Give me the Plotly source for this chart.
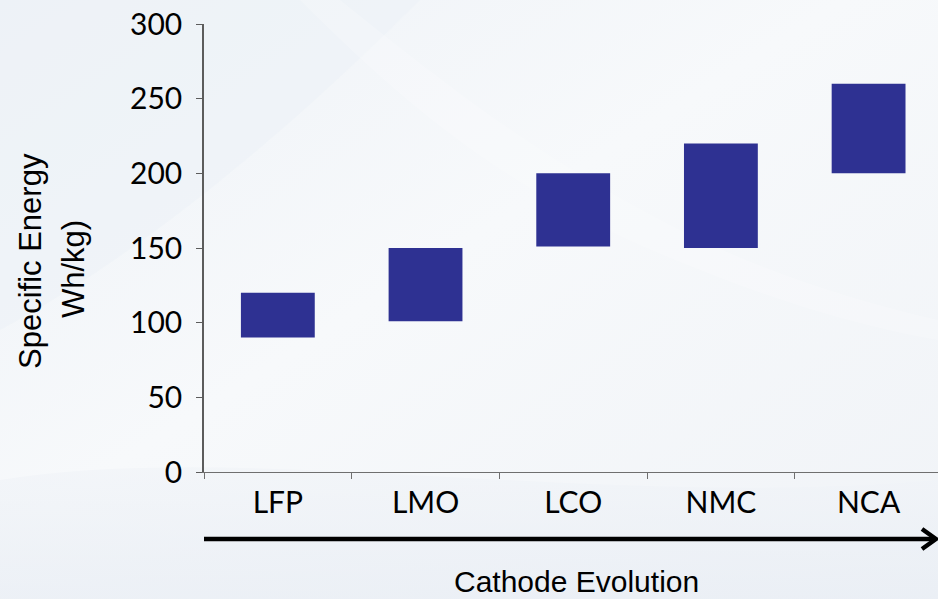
import plotly.graph_objects as go
import base64

categories = ["LFP", "LMO", "LCO", "NMC", "NCA"]
energy_low = [90, 101, 151, 150, 200]
energy_high = [120, 150, 200, 220, 260]
y_ticks = [0, 50, 100, 150, 200, 250, 300]

heights = [h - l for h, l in zip(energy_high, energy_low)]

W, H = 938, 599
L, R, T, B = 204, 0, 24, 127

svg = f'''<svg xmlns="http://www.w3.org/2000/svg" width="{W}" height="{H}" viewBox="0 0 {W} {H}">
<defs>
<linearGradient id="g" x1="0" y1="0" x2="1" y2="1">
<stop offset="0" stop-color="#eef2f7"/>
<stop offset="0.45" stop-color="#f7f9fb"/>
<stop offset="1" stop-color="#f0f3f7"/>
</linearGradient>
<linearGradient id="b" x1="0" y1="0" x2="0" y2="1">
<stop offset="0" stop-color="#f1f4f8"/>
<stop offset="1" stop-color="#e8edf4"/>
</linearGradient>
</defs>
<rect width="{W}" height="{H}" fill="url(#g)"/>
<path d="M0,0 L420,0 C300,120 150,250 0,330 Z" fill="#edf1f7" opacity="0.6"/>
<path d="M0,480 C250,440 600,510 938,480 L938,599 L0,599 Z" fill="url(#b)" opacity="0.7"/>
<path d="M300,0 C420,120 520,200 700,270 C800,310 880,330 938,340 L938,320 C850,300 760,270 680,230 C540,160 440,80 340,0 Z" fill="#ffffff" opacity="0.2"/>
</svg>'''
bg_src = "data:image/svg+xml;base64," + base64.b64encode(svg.encode()).decode()

fig = go.Figure()
fig.add_trace(go.Bar(
    x=categories, y=heights, base=energy_low,
    marker=dict(color="#2e3192", line=dict(width=0)),
    width=0.5, showlegend=False, hoverinfo="skip",
))

pw = W - L - R
ph = H - T - B

def px_x(p):
    return (p - L) / pw

def px_y(p):
    return (H - B - p) / ph

tick_font = dict(family="Lato, 'Open Sans', sans-serif", size=30, color="#000000")
sans = "'Liberation Sans', Arial, sans-serif"

fig.update_layout(
    width=W, height=H,
    margin=dict(l=L, r=R, t=T, b=B, pad=0),
    paper_bgcolor="#f3f6f9",
    plot_bgcolor="rgba(0,0,0,0)",
    bargap=0.5,
    images=[dict(source=bg_src, xref="paper", yref="paper",
                 x=px_x(0), y=px_y(0), sizex=W / pw, sizey=H / ph,
                 xanchor="left", yanchor="top", sizing="stretch", layer="below")],
    xaxis=dict(
        range=[-0.5, 4.47], showgrid=False, zeroline=False,
        showline=True, linecolor="#6f6f6f", linewidth=1.2,
        ticks="outside", tickson="boundaries", ticklen=6, tickcolor="#6f6f6f", tickwidth=1.2,
        tickfont=tick_font, ticklabelstandoff=4,
    ),
    yaxis=dict(
        range=[0, 300], tickvals=y_ticks, showgrid=False, zeroline=False,
        showline=True, linecolor="#5c5c5c", linewidth=1.6,
        ticks="outside", ticklen=6, tickcolor="#5c5c5c", tickwidth=1.2,
        tickfont=tick_font, ticklabelstandoff=8,
    ),
    shapes=[
        dict(type="line", xref="paper", yref="paper",
             x0=0, x1=px_x(935), y0=px_y(539), y1=px_y(539),
             line=dict(color="#000000", width=4.5)),
        dict(type="path", xref="paper", yref="paper",
             path=f"M {px_x(922)},{px_y(529)} L {px_x(936)},{px_y(539)} L {px_x(922)},{px_y(549)}",
             line=dict(color="#000000", width=4.5)),
    ],
    annotations=[
        dict(text="Cathode Evolution", xref="paper", yref="paper",
             x=px_x(576), y=px_y(581), xanchor="center", yanchor="middle",
             showarrow=False, font=dict(family=sans, size=30, color="#000000")),
        dict(text="Specific Energy", xref="paper", yref="paper",
             x=px_x(30), y=px_y(261), xanchor="center", yanchor="middle", textangle=-90,
             showarrow=False, font=dict(family=sans, size=31, color="#000000")),
        dict(text="Wh/kg)", xref="paper", yref="paper",
             x=px_x(73), y=px_y(269), xanchor="center", yanchor="middle", textangle=-90,
             showarrow=False, font=dict(family=sans, size=31, color="#000000")),
    ],
)

fig.write_html("out.html", config={"displayModeBar": False},
               post_script="document.body.style.margin='0';document.body.style.overflow='hidden';")
